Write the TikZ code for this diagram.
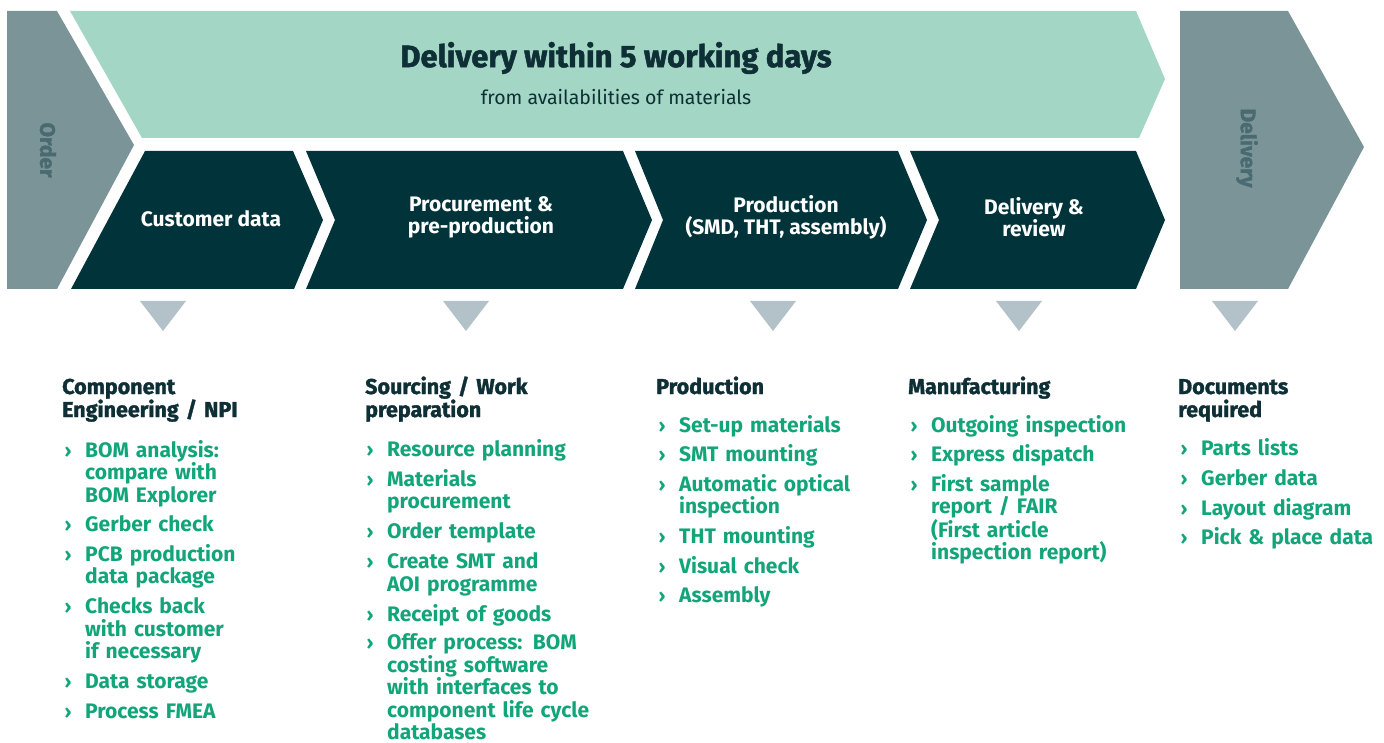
\documentclass[tikz,border=0pt]{standalone}
\usepackage{fontspec}
\setmainfont{Fira Sans}
\newfontfamily\heavyfont{Fira Sans}[FakeBold=1.5]
\usepackage{tikz}
\usetikzlibrary{positioning}
\definecolor{sidegray}{RGB}{123,148,151}
\definecolor{sidetext}{RGB}{72,106,112}
\definecolor{mint}{RGB}{163,214,196}
\definecolor{darkteal}{RGB}{0,52,58}
\definecolor{trigray}{RGB}{178,194,200}
\definecolor{itemgreen}{RGB}{18,165,122}
\definecolor{headdark}{RGB}{14,47,53}
% one list entry: name, x, baseline, text
\newcommand{\itm}[4]{%
\node[item] (#1) at (#2,#3) {#4};
\node[marker] (#1m) at ([xshift=-17pt]#1.base west) {›};
}

\begin{document}
\begin{tikzpicture}[x=1pt,y=-1pt,
  step shape/.style={fill=darkteal},
  step text/.style={text=white,font=\bfseries\fontsize{21}{22}\selectfont,align=center},
  side text/.style={text=sidetext,font=\heavyfont\bfseries\fontsize{21}{22}\selectfont,rotate=-90},
  head/.style={anchor=base west,inner sep=0pt,text width=260pt,align=left,text=headdark,font=\heavyfont\bfseries\fontsize{21.5}{23}\selectfont},
  item/.style={anchor=base west,inner sep=0pt,text width=260pt,align=left,text=itemgreen,font=\bfseries\fontsize{21}{22.5}\selectfont},
  marker/.style={anchor=base,inner sep=0pt,text=itemgreen,font=\bfseries\fontsize{19}{22.5}\selectfont}]
\useasboundingbox (0,0) rectangle (1384,743);
% top row
\fill[sidegray](7,11)--(57,11)--(134,145)--(57,289)--(7,289)--cycle;
\fill[mint](70,11)--(1136,11)--(1165,79)--(1139,138)--(142,138)--cycle;
\fill[sidegray](1180,11)--(1288,11)--(1364,147)--(1288,289)--(1180,289)--cycle;
\node[side text] (order) at (48,150) {Order};
\node[side text] (delivery) at (1247,148) {Delivery};
\node[text=headdark,font=\heavyfont\bfseries\fontsize{31}{33}\selectfont] (title) at (616,58) {Delivery within 5 working days};
\node[text=headdark,font=\fontsize{19.5}{22}\selectfont,below=8pt of title] (subtitle) {from availabilities of materials};
% process steps
\fill[step shape](145,151)--(293,151)--(323,220)--(294,289)--(71,289)--cycle;
\fill[step shape](306,151)--(623,151)--(652,220)--(623,289)--(306,289)--(335,220)--cycle;
\fill[step shape](635,151)--(898,151)--(927,220)--(898,289)--(635,289)--(663,220)--cycle;
\fill[step shape](910,151)--(1136,151)--(1165,220)--(1136,289)--(910,289)--(939,220)--cycle;
\node[step text] (customer) at (211,219) {Customer data};
\node[step text] (procure) at (481,217) {Procurement \&\\pre-production};
\node[step text] (production) at (786,217) {Production\\(SMD, THT, assembly)};
\node[step text] (review) at (1034,217) {Delivery \&\\review};
% pointers
\fill[trigray](140,301)--(186,301)--(163,331)--cycle;
\fill[trigray](443,301)--(489,301)--(466,331)--cycle;
\fill[trigray](750,301)--(796,301)--(773,331)--cycle;
\fill[trigray](996,301)--(1042,301)--(1019,331)--cycle;
\fill[trigray](1212,301)--(1258,301)--(1235,331)--cycle;
% column 1
\node[head] (engh) at (62,394) {Component\\Engineering / NPI};
\itm{eng1}{85}{457}{BOM analysis:\\compare with\\BOM Explorer}
\itm{eng2}{85}{531}{Gerber check}
\itm{eng3}{85}{561}{PCB production\\data package}
\itm{eng4}{85}{613.5}{Checks back\\with customer\\if necessary}
\itm{eng5}{85}{688}{Data storage}
\itm{eng6}{85}{718}{Process FMEA}
% column 2
\node[head] (srch) at (365,394) {Sourcing / Work\\preparation};
\itm{src1}{387}{456}{Resource planning}
\itm{src2}{387}{486}{Materials\\procurement}
\itm{src3}{387}{538.5}{Order template}
\itm{src4}{387}{568.5}{Create SMT and\\AOI programme}
\itm{src5}{387}{621}{Receipt of goods}
\itm{src6}{387}{649.5}{Offer process: BOM\\costing software\\with interfaces to\\component life cycle\\databases}
% column 3
\node[head] (prodh) at (656,394) {Production};
\itm{prod1}{679}{432}{Set-up materials}
\itm{prod2}{679}{461.5}{SMT mounting}
\itm{prod3}{679}{491}{Automatic optical\\inspection}
\itm{prod4}{679}{543.5}{THT mounting}
\itm{prod5}{679}{573}{Visual check}
\itm{prod6}{679}{602.5}{Assembly}
% column 4
\node[head] (manh) at (908,394) {Manufacturing};
\itm{man1}{931}{432}{Outgoing inspection}
\itm{man2}{931}{461.5}{Express dispatch}
\itm{man3}{931}{491}{First sample\\report / FAIR\\(First article\\inspection report)}
% column 5
\node[head] (doch) at (1178,394) {Documents\\required};
\itm{doc1}{1201}{455.5}{Parts lists}
\itm{doc2}{1201}{485}{Gerber data}
\itm{doc3}{1201}{515}{Layout diagram}
\itm{doc4}{1201}{544.5}{Pick \& place data}
\end{tikzpicture}
\end{document}
